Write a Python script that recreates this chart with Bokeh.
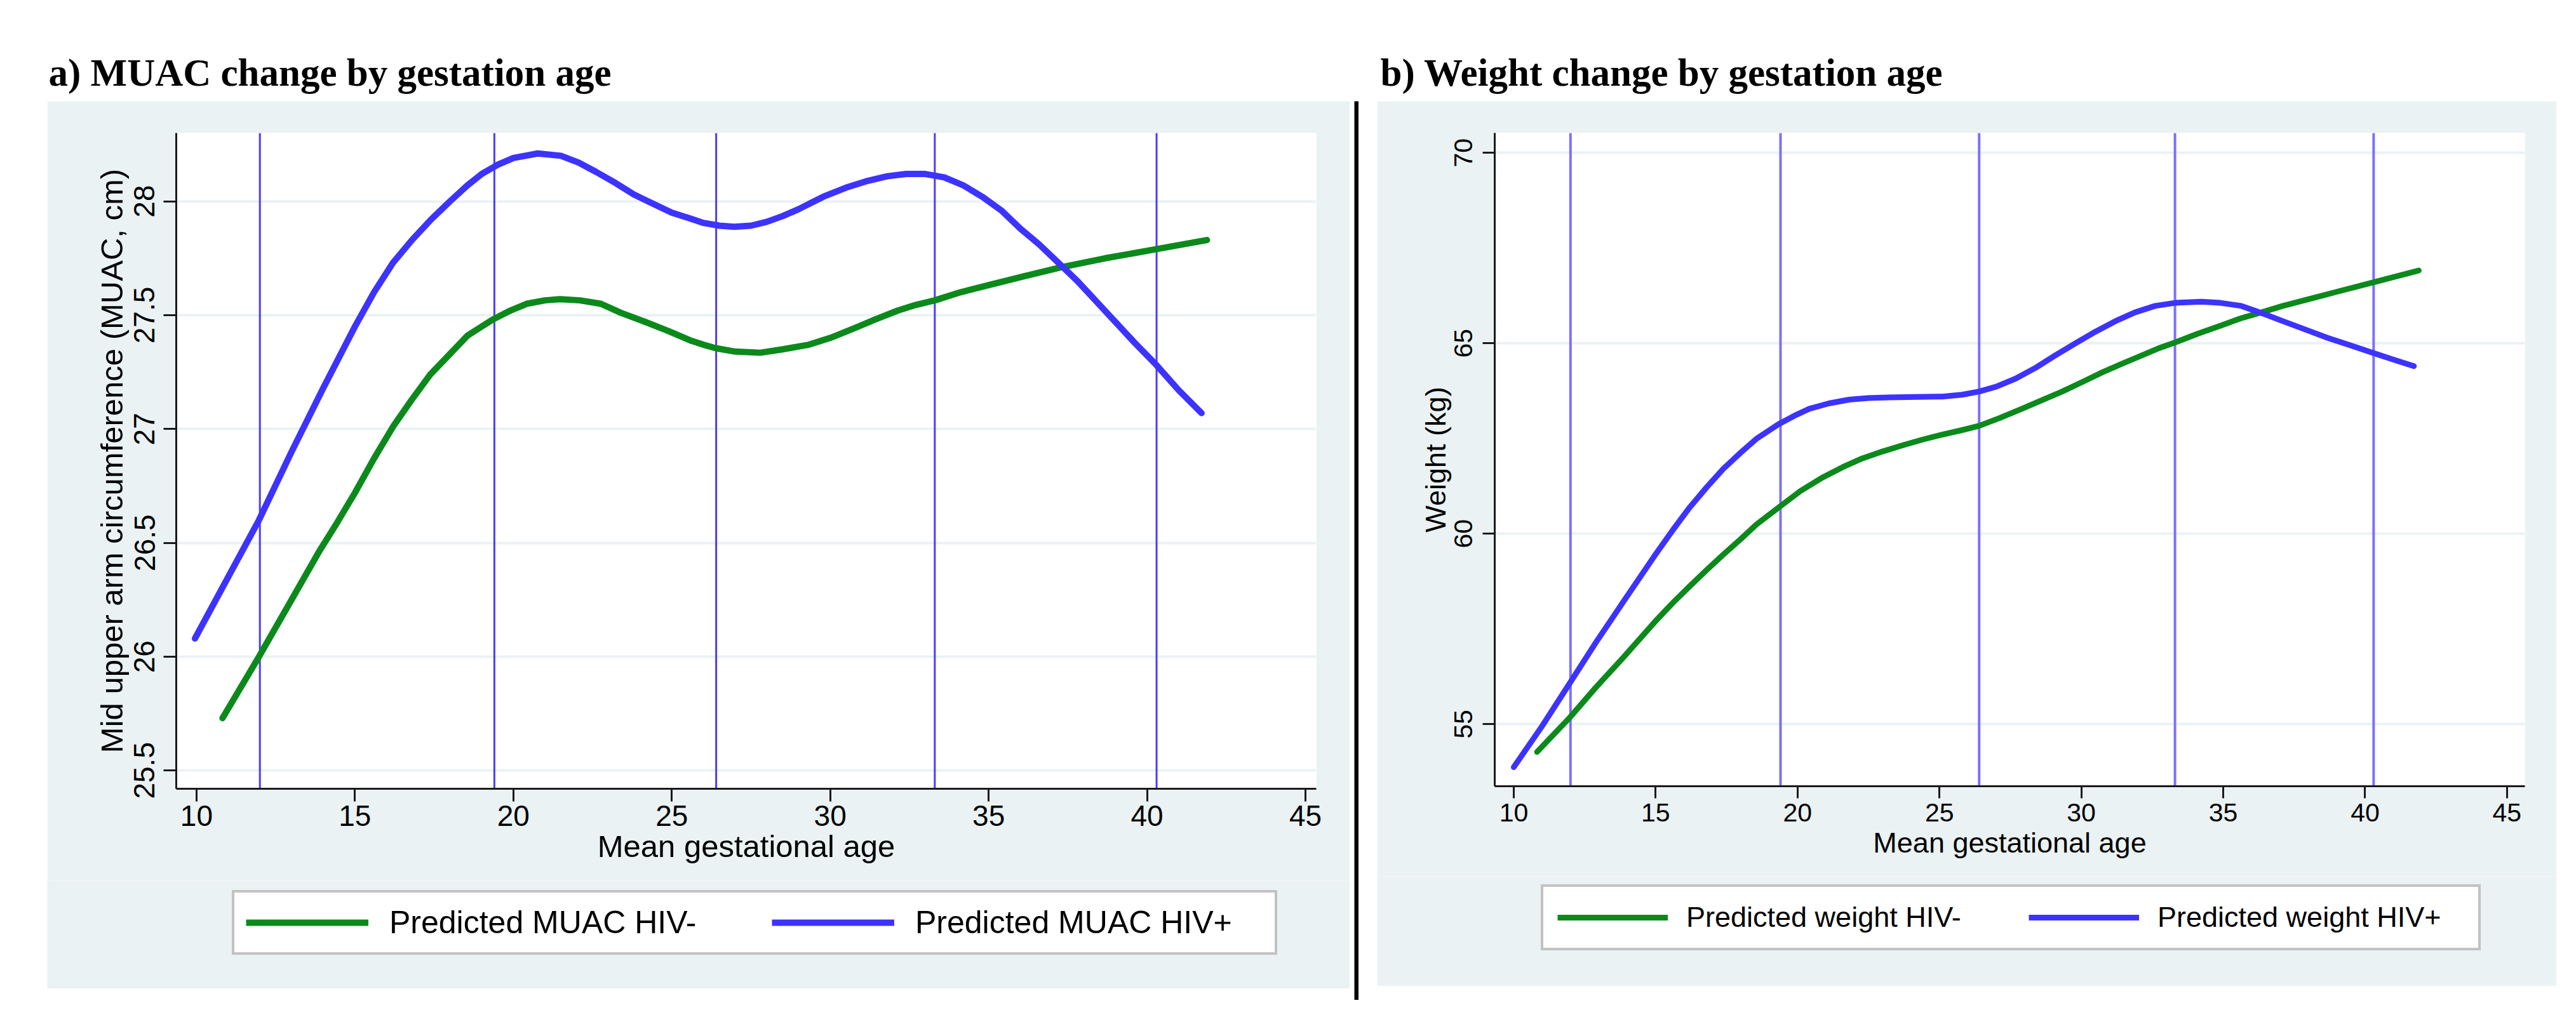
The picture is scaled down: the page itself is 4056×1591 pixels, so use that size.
from bokeh.plotting import figure
from bokeh.models import Range1d, Span, Legend, LegendItem, Label, FixedTicker, Spacer
from bokeh.layouts import row, column
from bokeh.embed import file_html
from bokeh.resources import INLINE

# ---------------- data ----------------
visit_means = [12.0, 19.4, 26.4, 33.3, 40.3]
x_ticks = [10, 15, 20, 25, 30, 35, 40, 45]

# a) MUAC (cm) by mean gestational age
muac_ticks = [25.5, 26, 26.5, 27, 27.5, 28]
muac_pos_x = [9.95, 11.0, 11.97, 13.0, 14.0, 15.0, 15.6, 16.2, 16.8, 17.4, 18.0, 18.55, 19.0, 19.5,
              20.0, 20.77, 21.5, 22.06, 22.6, 23.23, 23.8, 24.4, 25.0, 25.57, 26.0, 26.5, 26.97,
              27.5, 28.0, 28.5, 29.0, 29.78, 30.5, 31.19, 31.8, 32.4, 33.0, 33.6, 34.2, 34.8, 35.4,
              36.0, 36.6, 37.2, 37.8, 38.4, 39.0, 39.6, 40.3, 41.0, 41.72]
muac_pos_y = [26.08, 26.35, 26.60, 26.90, 27.18, 27.45, 27.60, 27.73, 27.83, 27.92, 28.00, 28.07, 28.12, 28.16,
              28.19, 28.21, 28.20, 28.17, 28.13, 28.08, 28.03, 27.99, 27.95, 27.925, 27.905, 27.893, 27.888,
              27.893, 27.91, 27.935, 27.965, 28.02, 28.06, 28.09, 28.11, 28.12, 28.12, 28.105, 28.07, 28.02, 27.96,
              27.88, 27.81, 27.73, 27.65, 27.56, 27.47, 27.38, 27.28, 27.17, 27.07]
muac_neg_x = [10.82, 11.97, 13.0, 13.86, 14.4, 15.0, 15.6, 16.2, 16.8, 17.38, 18.0, 18.55, 19.0, 19.34,
              19.9, 20.42, 21.0, 21.47, 22.1, 22.76, 23.4, 24.17, 24.9, 25.57, 26.0, 26.39, 27.0, 27.79,
              28.5, 29.32, 30.0, 30.72, 31.4, 32.13, 32.7, 33.3, 34.1, 34.94, 36.1, 37.28, 38.68, 40.3, 41.89]
muac_neg_y = [25.73, 26.00, 26.25, 26.46, 26.58, 26.72, 26.87, 27.01, 27.13, 27.24, 27.33, 27.41, 27.45, 27.48,
              27.52, 27.55, 27.565, 27.57, 27.565, 27.55, 27.51, 27.47, 27.43, 27.39, 27.37, 27.355, 27.34, 27.335,
              27.35, 27.37, 27.40, 27.44, 27.48, 27.52, 27.545, 27.565, 27.60, 27.63, 27.67, 27.71, 27.75, 27.79, 27.83]

# b) Weight (kg) by mean gestational age
wt_ticks = [55, 60, 65, 70]
wt_pos_x = [10.0, 11.0, 11.97, 12.9, 13.86, 14.99, 15.6, 16.2, 16.8, 17.38, 18.0, 18.55, 19.34, 19.9,
            20.42, 21.1, 21.82, 22.5, 23.23, 24.2, 25.1, 25.8, 26.39, 27.0, 27.68, 28.4, 29.08, 29.8,
            30.49, 31.2, 31.89, 32.6, 33.30, 34.23, 34.9, 35.64, 36.4, 37.28, 38.0, 38.68, 39.5, 40.30,
            41.0, 41.72]
wt_pos_y = [53.87, 54.95, 56.07, 57.15, 58.21, 59.45, 60.09, 60.69, 61.22, 61.70, 62.13, 62.49, 62.88, 63.10,
            63.28, 63.42, 63.52, 63.56, 63.58, 63.59, 63.60, 63.65, 63.73, 63.86, 64.07, 64.36, 64.68, 65.00,
            65.30, 65.58, 65.81, 65.98, 66.06, 66.09, 66.06, 65.98, 65.78, 65.53, 65.33, 65.14, 64.94, 64.74,
            64.57, 64.40]
wt_neg_x = [10.82, 11.97, 12.9, 13.86, 14.99, 15.6, 16.2, 16.8, 17.38, 18.0, 18.55, 19.34, 20.1, 20.89,
            21.6, 22.29, 23.0, 23.7, 24.4, 25.10, 25.8, 26.39, 27.1, 27.91, 28.6, 29.32, 30.0, 30.72,
            31.4, 32.13, 32.7, 33.30, 34.1, 34.94, 35.6, 36.34, 37.1, 37.98, 39.1, 40.30, 41.89]
wt_neg_y = [54.27, 55.17, 55.97, 56.75, 57.70, 58.18, 58.62, 59.05, 59.45, 59.86, 60.24, 60.69, 61.12, 61.48,
            61.75, 61.98, 62.16, 62.32, 62.47, 62.60, 62.72, 62.83, 63.03, 63.28, 63.50, 63.73, 63.97, 64.23,
            64.45, 64.68, 64.86, 65.02, 65.25, 65.47, 65.65, 65.81, 65.98, 66.15, 66.37, 66.60, 66.91]

# ---------------- style ----------------
BG = "#EAF2F3"
GREEN = "#0b8a1b"
BLUE = "#3d33ff"
AXC = "#1a1a1a"
SANS = "Liberation Sans"


def blank(width, height, fill):
    f = figure(width=width, height=height, output_backend="svg", toolbar_location=None,
               x_axis_location=None, y_axis_location=None, min_border=0, frame_align=False,
               x_range=Range1d(0, 1), y_range=Range1d(0, 1))
    f.outline_line_color = None
    f.grid.visible = False
    f.background_fill_color = fill
    f.border_fill_color = fill
    return f


def panel(width, height, borders, xr, yr, yticks, ylab, xlab, series, vcolor, vwidth,
          tick_fs, lab_fs, lw, tick_len, ystand, ylstand, xstand, xlstand):
    p = figure(width=width, height=height, output_backend="svg", toolbar_location=None,
               x_range=Range1d(*xr), y_range=Range1d(*yr), frame_align=False,
               min_border_left=borders[0], min_border_right=borders[1],
               min_border_top=borders[2], min_border_bottom=borders[3])
    p.border_fill_color = BG
    p.background_fill_color = "white"
    p.outline_line_color = None
    p.xgrid.visible = False
    p.ygrid.grid_line_color = BG
    p.ygrid.grid_line_width = 4
    p.ygrid.ticker = FixedTicker(ticks=yticks)

    p.xaxis.ticker = FixedTicker(ticks=x_ticks)
    p.yaxis.ticker = FixedTicker(ticks=yticks)
    p.yaxis.major_label_orientation = "vertical"
    for ax in (p.xaxis, p.yaxis):
        ax.axis_line_color = AXC
        ax.axis_line_width = 3
        ax.major_tick_line_color = AXC
        ax.major_tick_line_width = 3
        ax.major_tick_out = tick_len
        ax.major_tick_in = 0
        ax.minor_tick_out = 0
        ax.minor_tick_in = 0
        ax.major_label_text_font = SANS
        ax.major_label_text_font_size = f"{tick_fs}px"
        ax.major_label_text_color = "black"
        ax.axis_label_text_font = SANS
        ax.axis_label_text_font_size = f"{lab_fs}px"
        ax.axis_label_text_font_style = "normal"
        ax.axis_label_text_color = "black"
    p.yaxis.major_label_standoff = ystand
    p.yaxis.axis_label_standoff = ylstand
    p.xaxis.major_label_standoff = xstand
    p.xaxis.axis_label_standoff = xlstand
    p.yaxis.axis_label = ylab
    p.xaxis.axis_label = xlab

    for v in visit_means:
        p.add_layout(Span(location=v, dimension="height", line_color=vcolor,
                          line_width=vwidth, level="underlay"))

    for (xs, ys, color, label) in series:
        p.line(xs, ys, line_color=color, line_width=lw, line_cap="round", line_join="round")
    return p


def legend_fig(width, height, series, lw, fs, loc, padding, spacing, glyph_width, standoff, label_width):
    # the legend's sample renderers carry the same series; they fall outside this
    # strip's (0..1) ranges, so only the legend swatches are visible
    f = blank(width, height, BG)
    items = []
    for (xs, ys, color, label) in series:
        r = f.line(xs, ys, line_color=color, line_width=lw)
        items.append(LegendItem(label=label, renderers=[r]))
    lg = Legend(items=items, orientation="horizontal", location=loc,
                label_text_font=SANS, label_text_font_size=f"{fs}px", label_text_color="black",
                border_line_color="#858585", border_line_width=4,
                background_fill_color="white", background_fill_alpha=1.0,
                padding=padding, spacing=spacing, glyph_width=glyph_width, glyph_height=20,
                label_standoff=standoff, label_width=label_width, margin=0)
    f.add_layout(lg, "center")
    return f


series_a = [(muac_neg_x, muac_neg_y, GREEN, "Predicted MUAC HIV-"),
            (muac_pos_x, muac_pos_y, BLUE, "Predicted MUAC HIV+")]
series_b = [(wt_neg_x, wt_neg_y, GREEN, "Predicted weight HIV-"),
            (wt_pos_x, wt_pos_y, BLUE, "Predicted weight HIV+")]

pa = panel(2051, 1228, (203, 53, 50, 145), (9.36, 45.34), (25.42, 28.30), muac_ticks,
           "Mid upper arm circumference (MUAC, cm)", "Mean gestational age", series_a,
           "#4a3cff", 3, 46, 49, 10, 20, 14, 6, 6, 2)
la = legend_fig(2051, 170, series_a, 10, 50, (291, 53), 18, 54, 193, 33, 548)

pb = panel(1857, 1221, (185, 50, 50, 142), (9.33, 45.63), (53.37, 70.52), wt_ticks,
           "Weight (kg)", "Mean gestational age", series_b,
           "#7b70ff", 4, 41, 45, 9, 19, 16, 2, 8, 5)
lb = legend_fig(1857, 173, series_b, 9, 45, (258, 56), 22, 56, 174, 29, 483)

# header with the two panel titles
hdr = blank(4040, 159, "white")
for tx, txt in [(76, "a) MUAC change by gestation age"), (2173, "b) Weight change by gestation age")]:
    hdr.add_layout(Label(x=tx, y=45, x_units="screen", y_units="screen", text=txt,
                         text_font="Liberation Serif", text_font_style="bold",
                         text_font_size="61px", text_color="black", text_baseline="alphabetic"))

# vertical divider between panels
div = blank(7, 1416, "black")

body = row(
    Spacer(width=74, height=1416),
    column(pa, la, Spacer(width=2051, height=18)),
    Spacer(width=7, height=1416),
    div,
    Spacer(width=29, height=1416),
    column(pb, lb, Spacer(width=1857, height=22)),
    Spacer(width=15, height=1416),
)
layout = column(hdr, body)

open("out.html", "w").write(file_html(layout, INLINE))
